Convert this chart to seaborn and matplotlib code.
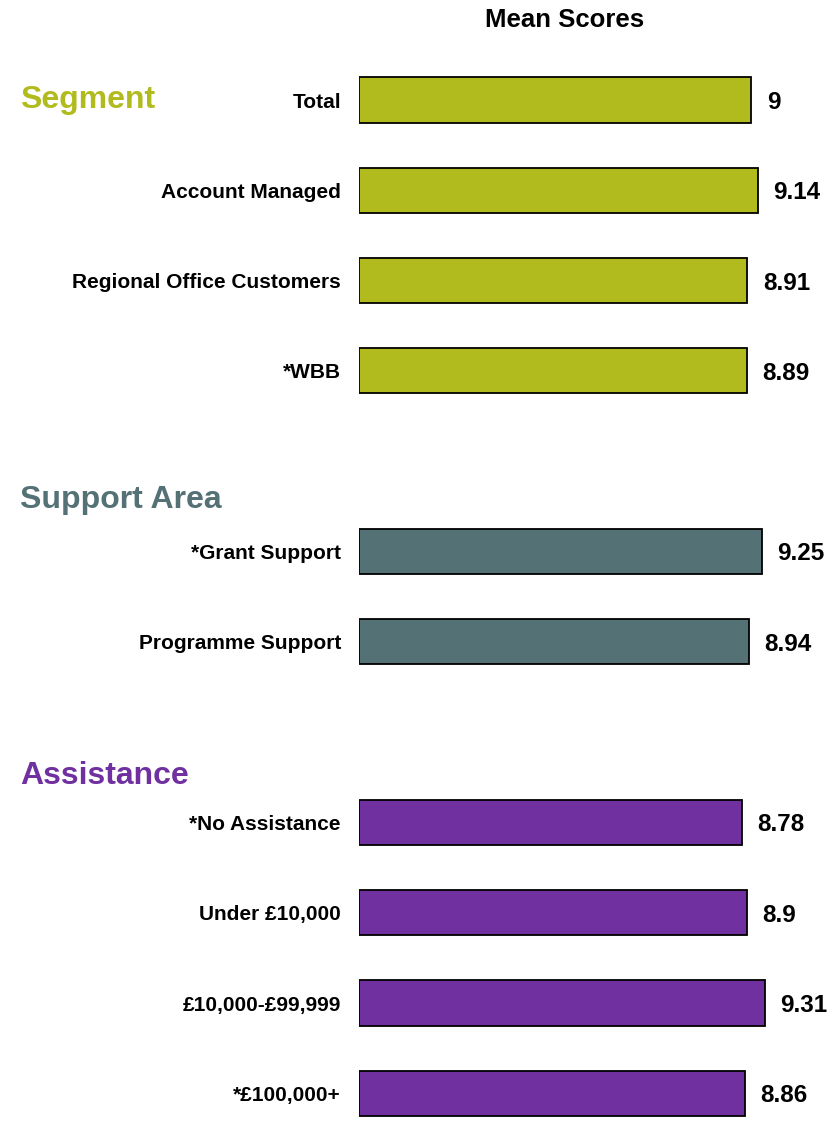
import numpy as np
import pandas as pd
import matplotlib.pyplot as plt
import matplotlib.transforms as mtransforms
import seaborn as sns

sns.set_theme(style="white")
plt.rcParams['font.family'] = ['Liberation Sans', 'DejaVu Sans']
plt.rcParams['text.color'] = 'black'

groups = ["Segment", "Support Area", "Assistance"]
segment_labels = ["Total", "Account Managed", "Regional Office Customers", "*WBB"]
segment_scores = [9.0, 9.14, 8.91, 8.89]
support_labels = ["*Grant Support", "Programme Support"]
support_scores = [9.25, 8.94]
assist_labels = ["*No Assistance", "Under £10,000", "£10,000-£99,999", "*£100,000+"]
assist_scores = [8.78, 8.9, 9.31, 8.86]
group_colors = {"Segment": "#B2BB1E", "Support Area": "#547176", "Assistance": "#7030A0"}

rows = []
for g, labs, vals in [("Segment", segment_labels, segment_scores),
                      ("Support Area", support_labels, support_scores),
                      ("Assistance", assist_labels, assist_scores)]:
    for l, v in zip(labs, vals):
        rows.append({"Group": g, "Label": l, "Score": v})
df = pd.DataFrame(rows)

# category order with empty slots between the groups
order = segment_labels + [" "] + support_labels + ["  "] + assist_labels

W, H = 837, 1122
fig = plt.figure(figsize=(W / 100, H / 100), dpi=100)
row_h = 90.3
top_row_px = 100
ax = fig.add_axes([359 / W, 0, 436 / W, 1])

sns.barplot(data=df, x="Score", y="Label", hue="Group", order=order,
            palette=group_colors, dodge=False, width=0.5, legend=False,
            saturation=1, edgecolor="black", linewidth=1.3, ax=ax)

ax.set_xlim(0, 10)
ax.set_ylim((H - top_row_px) / row_h, -top_row_px / row_h)
for c in ax.containers:
    labels = ax.bar_label(c, labels=[f"{v:g}" for v in c.datavalues], padding=11,
                          fontsize=17.5, fontweight="bold", color="black")
    for t in labels:
        t.set_verticalalignment("center_baseline")

ax.set_xlabel("")
ax.set_ylabel("")
ax.set_xticks([])
ax.tick_params(axis="y", length=0, pad=13)
for t in ax.get_yticklabels():
    t.set_fontsize(15)
    t.set_fontweight("bold")
    t.set_color("black")
sns.despine(ax=ax, left=True, bottom=True)

# group headers
trans = mtransforms.blended_transform_factory(fig.transFigure, ax.transData)
header_rows = [0, 4.43, 7.49]
for g, r in zip(groups, header_rows):
    fig.text(20 / W, r, g, transform=trans, fontsize=23, fontweight="bold",
             color=group_colors[g], ha="left", va="center")

fig.text(565 / W, 1 - 20 / H, "Mean Scores", fontsize=18.5, fontweight="bold",
         color="black", ha="center", va="center")

fig.savefig("out.png", dpi=100)
